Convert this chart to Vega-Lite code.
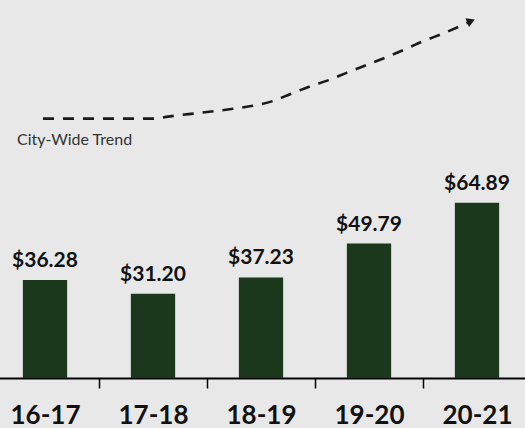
{
  "$schema": "https://vega.github.io/schema/vega-lite/v6.json",
  "width": 525,
  "height": 378,
  "autosize": {"type": "none"},
  "padding": {"top": 0, "left": 0, "right": 0, "bottom": 50},
  "background": "#e8e8e8",
  "config": {"view": {"stroke": null}},
  "datasets": {
    "bars": [
      {"year": "16-17", "value": 36.28, "label": "$36.28"},
      {"year": "17-18", "value": 31.20, "label": "$31.20"},
      {"year": "18-19", "value": 37.23, "label": "$37.23"},
      {"year": "19-20", "value": 49.79, "label": "$49.79"},
      {"year": "20-21", "value": 64.89, "label": "$64.89"}
    ],
    "trend": [
      {"tx": 43, "ty": 96.05},
      {"tx": 100, "ty": 96.05},
      {"tx": 155, "ty": 96.05},
      {"tx": 168, "ty": 96.8},
      {"tx": 200, "ty": 98.2},
      {"tx": 233, "ty": 99.7},
      {"tx": 253, "ty": 100.8},
      {"tx": 273, "ty": 102.6},
      {"tx": 290, "ty": 105.1},
      {"tx": 310, "ty": 108.0},
      {"tx": 330, "ty": 110.5},
      {"tx": 347, "ty": 113.1},
      {"tx": 367, "ty": 116.0},
      {"tx": 387, "ty": 118.9},
      {"tx": 403, "ty": 121.4},
      {"tx": 423, "ty": 124.7},
      {"tx": 443, "ty": 127.6},
      {"tx": 468, "ty": 131.6}
    ],
    "arrow": [{"tx": 471, "ty": 132.2}],
    "note": [{"tx": 17, "ty": 88.1, "t": "City-Wide Trend"}]
  },
  "layer": [
    {
      "data": {"name": "bars"},
      "encoding": {
        "x": {
          "field": "year", "type": "nominal", "sort": null,
          "scale": {"paddingInner": 0, "paddingOuter": 0, "range": [-9, 531]},
          "axis": {
            "title": null, "labelAngle": 0, "tickBand": "extent",
            "domainColor": "#000", "domainWidth": 2,
            "tickColor": "#000", "tickWidth": 1.5, "tickSize": 10,
            "labelFont": "Lato", "labelFontWeight": "bold", "labelFontSize": 26,
            "labelColor": "#111", "labelPadding": 14
          }
        },
        "y": {"field": "value", "type": "quantitative", "scale": {"domain": [0, 137]}, "axis": null}
      },
      "layer": [
        {"mark": {"type": "bar", "color": "#1c381c", "width": {"band": 0.41}}},
        {
          "mark": {"type": "text", "font": "Lato", "fontWeight": "bold", "fontSize": 21, "baseline": "alphabetic", "dy": -13, "color": "#111"},
          "encoding": {"text": {"field": "label"}}
        }
      ]
    },
    {
      "data": {"name": "trend"},
      "mark": {"type": "line", "interpolate": "monotone", "strokeDash": [11, 9], "strokeWidth": 2.6, "color": "#1a1a1a"},
      "encoding": {
        "x": {"field": "tx", "type": "quantitative", "scale": {"domain": [0, 525]}, "axis": null},
        "y": {"field": "ty", "type": "quantitative"}
      }
    },
    {
      "data": {"name": "arrow"},
      "mark": {"type": "point", "shape": "triangle-up", "filled": true, "size": 90, "angle": 68, "color": "#1a1a1a", "opacity": 1},
      "encoding": {
        "x": {"field": "tx", "type": "quantitative", "scale": {"domain": [0, 525]}, "axis": null},
        "y": {"field": "ty", "type": "quantitative"}
      }
    },
    {
      "data": {"name": "note"},
      "mark": {"type": "text", "font": "Lato", "fontSize": 16, "align": "left", "baseline": "middle", "color": "#333", "letterSpacing": 0},
      "encoding": {
        "x": {"field": "tx", "type": "quantitative", "scale": {"domain": [0, 525]}, "axis": null},
        "y": {"field": "ty", "type": "quantitative"},
        "text": {"field": "t"}
      }
    }
  ],
  "resolve": {"scale": {"x": "independent"}}
}
